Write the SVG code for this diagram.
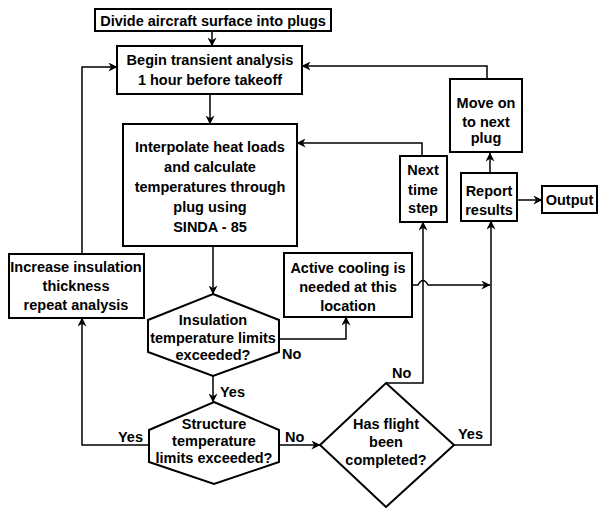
<svg xmlns="http://www.w3.org/2000/svg" width="598" height="508" viewBox="0 0 598 508">
<defs>
<marker id="ah" viewBox="0 0 10 10" refX="9.5" refY="5" markerWidth="9" markerHeight="9" markerUnits="userSpaceOnUse" orient="auto">
<path d="M0,0 L10,5 L0,10 L3,5 Z" fill="#000"/>
</marker>
<style>
.box{fill:#fff;stroke:#000;stroke-width:2}
.ln{fill:none;stroke:#000;stroke-width:1.5;marker-end:url(#ah)}
.ln2{fill:none;stroke:#000;stroke-width:1.5}
text{font-family:"Liberation Sans",Arial,sans-serif;font-weight:bold;font-size:14.5px;fill:#000}
.c{text-anchor:middle}
</style>
</defs>
<rect width="598" height="508" fill="#fff"/>
<g id="connectors">
<path class="ln" d="M212,31 V46"/>
<path class="ln" d="M210,94 V124"/>
<path class="ln" d="M213,246 V294"/>
<path class="ln" d="M213,376 V402"/>
<path class="ln" d="M279,339 H346 V317"/>
<path class="ln" d="M149,445 H82 V318"/>
<path class="ln" d="M82,254 V67 H117"/>
<path class="ln" d="M279,445 H320"/>
<path class="ln" d="M386,383 H423 V222"/>
<path class="ln" d="M422,156 V143 H297"/>
<path class="ln" d="M454,445 H491 V221"/>
<path class="ln" d="M412,285 H418 Q423,276 428,285 H490"/>
<path class="ln" d="M490,173 V153"/>
<path class="ln" d="M487,79 V66 H302"/>
<path class="ln" d="M517,200 H542"/>
</g>
<g id="divide">
<rect class="box" x="95" y="9" width="236" height="22"/>
<text class="c" x="213" y="25.5">Divide aircraft surface into plugs</text>
</g>
<g id="begin">
<rect class="box" x="117" y="46" width="185" height="48"/>
<text class="c" x="210" y="65">Begin transient analysis</text>
<text class="c" x="210" y="85">1 hour before takeoff</text>
</g>
<g id="interpolate">
<rect class="box" x="123" y="124" width="174" height="122"/>
<text class="c" x="210" y="152">Interpolate heat loads</text>
<text class="c" x="210" y="172">and calculate</text>
<text class="c" x="210" y="192">temperatures through</text>
<text class="c" x="210" y="212">plug using</text>
<text class="c" x="210" y="232">SINDA - 85</text>
</g>
<g id="increase">
<rect class="box" x="9" y="254" width="135" height="64"/>
<text class="c" x="76" y="272">Increase insulation</text>
<text class="c" x="76" y="291">thickness</text>
<text class="c" x="76" y="310">repeat analysis</text>
</g>
<g id="insulation">
<polygon class="box" points="213,294 279,320 279,352 213,376 148,352 148,320"/>
<text class="c" x="213" y="325">Insulation</text>
<text class="c" x="213" y="343">temperature limits</text>
<text class="c" x="213" y="360">exceeded?</text>
</g>
<g id="active">
<rect class="box" x="284" y="253" width="128" height="64"/>
<text class="c" x="348" y="273">Active cooling is</text>
<text class="c" x="348" y="292">needed at this</text>
<text class="c" x="348" y="311">location</text>
</g>
<g id="structure">
<polygon class="box" points="214,402 279,430 279,462 214,484 149,462 149,430"/>
<text class="c" x="214" y="429">Structure</text>
<text class="c" x="214" y="446">temperature</text>
<text class="c" x="214" y="463">limits exceeded?</text>
</g>
<g id="flight">
<polygon class="box" points="386,383 454,445 386,507 320,445"/>
<text class="c" x="386" y="429">Has flight</text>
<text class="c" x="386" y="447">been</text>
<text class="c" x="386" y="465">completed?</text>
</g>
<g id="nexttime">
<rect class="box" x="400" y="156" width="47" height="66"/>
<text class="c" x="423" y="175">Next</text>
<text class="c" x="423" y="195">time</text>
<text class="c" x="423" y="213">step</text>
</g>
<g id="moveon">
<rect class="box" x="450" y="79" width="72" height="73"/>
<text class="c" x="486" y="108">Move on</text>
<text class="c" x="486" y="127">to next</text>
<text class="c" x="486" y="143">plug</text>
</g>
<g id="report">
<rect class="box" x="461" y="173" width="56" height="48"/>
<text class="c" x="489" y="196">Report</text>
<text class="c" x="489" y="215">results</text>
</g>
<g id="output">
<rect class="box" x="542" y="186" width="55" height="27"/>
<text class="c" x="569.5" y="205">Output</text>
</g>
<g id="labels">
<text x="282" y="359">No</text>
<text x="220" y="397">Yes</text>
<text x="143" y="442" text-anchor="end">Yes</text>
<text x="285" y="442">No</text>
<text x="392" y="378">No</text>
<text x="458" y="439">Yes</text>
</g>
</svg>
